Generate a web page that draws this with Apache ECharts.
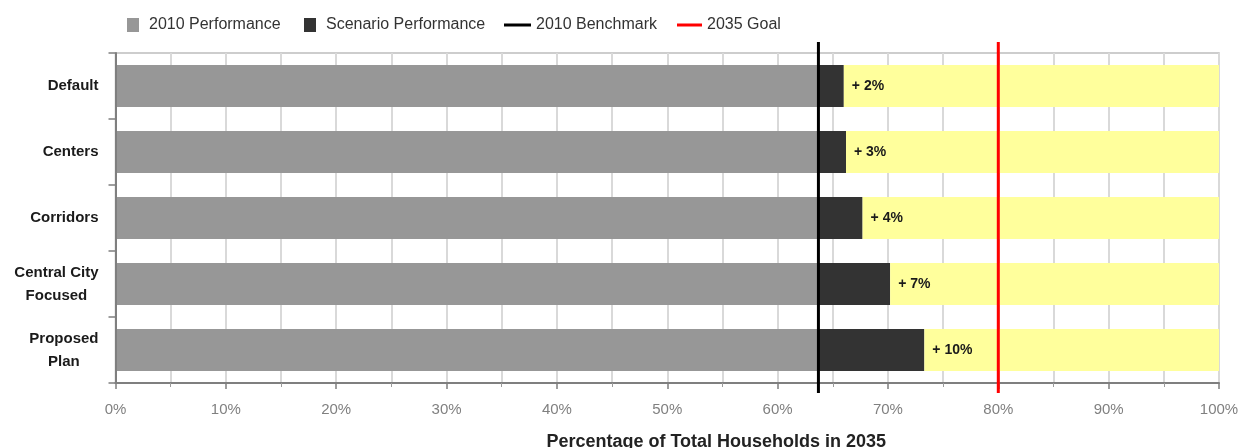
<!DOCTYPE html>
<html>
<head>
<meta charset="utf-8">
<script src="https://cdn.jsdelivr.net/npm/echarts@6/dist/echarts.min.js"></script>
<style>
  html, body { margin: 0; padding: 0; background: #fff; }
  #chart { width: 1240px; height: 448px; }
</style>
</head>
<body>
<div id="chart"></div>
<script>
// Scenarios compared against the 2010 benchmark
const categories = ['Default', 'Centers', 'Corridors', 'Central City\nFocused', 'Proposed\nPlan'];
// Share of households in 2010 (same starting point for every scenario)
const performance2010 = [63.7, 63.7, 63.7, 63.7, 63.7];
// Gain of each scenario over 2010, in percentage points
const scenarioGain = [2.3, 2.5, 4.0, 6.5, 9.6];
// Reference lines
const benchmark2010 = 63.7;
const goal2035 = 80;
// Axis range
const xMin = 0, xMax = 100, xInterval = 10;

const FONT = '"Liberation Sans", Arial, sans-serif';

// Room left up to 100% after the scenario gain
const remaining = performance2010.map((p, i) => +(xMax - p - scenarioGain[i]).toFixed(2));

// Vertical reference line that overshoots the plot area a little
function vLine(color, width, over, under) {
  return function (params, api) {
    const x = api.coord([api.value(0), 0])[0];
    const cs = params.coordSys;
    return {
      type: 'line',
      shape: { x1: x, y1: cs.y - over, x2: x, y2: cs.y + cs.height + under },
      style: { stroke: color, lineWidth: width }
    };
  };
}

const legendCommon = {
  top: 17,
  selectedMode: false,
  padding: 0,
  textStyle: { fontFamily: FONT, fontSize: 16, color: '#333' }
};
const squareIcon = 'path://M0,0M5,0H17V14H5ZM22,14';

const chart = echarts.init(document.getElementById('chart'), null, { renderer: 'canvas' });
chart.setOption({
  animation: false,
  backgroundColor: '#fff',
  legend: [
    Object.assign({ left: 122, itemWidth: 22, itemHeight: 14,
      data: [{ name: '2010 Performance', icon: squareIcon }] }, legendCommon),
    Object.assign({ left: 299, itemWidth: 22, itemHeight: 14,
      data: [{ name: 'Scenario Performance', icon: squareIcon }] }, legendCommon),
    Object.assign({ left: 504, itemWidth: 27, itemHeight: 3,
      data: [{ name: '2010 Benchmark', icon: 'rect', itemStyle: { color: '#000' } }] }, legendCommon),
    Object.assign({ left: 677, itemWidth: 25, itemHeight: 3,
      data: [{ name: '2035 Goal', icon: 'rect', itemStyle: { color: '#ff0000' } }] }, legendCommon)
  ],
  grid: {
    left: 115.5, right: 21, top: 53, bottom: 65,
    outerBoundsMode: 'none',
    containLabel: false,
    show: true, borderColor: '#bdbdbd', borderWidth: 1.5, backgroundColor: 'transparent'
  },
  xAxis: {
    type: 'value',
    min: xMin, max: xMax, interval: xInterval,
    name: 'Percentage of Total Households in 2035',
    nameLocation: 'middle',
    nameGap: 50,
    nameTextStyle: { fontFamily: FONT, fontSize: 18, fontWeight: 'bold', color: '#222', padding: [0, 0, 0, 98] },
    axisLine: { show: true, lineStyle: { color: '#7f7f7f', width: 2 } },
    axisTick: { show: true, length: 6, lineStyle: { color: '#7f7f7f', width: 1.5 } },
    minorTick: { show: true, splitNumber: 2, length: 4, lineStyle: { color: '#9a9a9a', width: 1 } },
    axisLabel: {
      margin: 19, fontFamily: FONT, fontSize: 15, color: '#808080',
      formatter: v => v + '%'
    },
    splitLine: { show: true, lineStyle: { color: '#d9d9d9', width: 2 } },
    minorSplitLine: { show: true, lineStyle: { color: '#d9d9d9', width: 2 } }
  },
  yAxis: {
    type: 'category',
    data: categories,
    inverse: true,
    z: 8,
    axisLine: { show: true, lineStyle: { color: '#7f7f7f', width: 2 } },
    axisTick: { show: true, length: 7, lineStyle: { color: '#7f7f7f', width: 1.5 } },
    axisLabel: {
      margin: 17,
      fontFamily: FONT, fontSize: 15, fontWeight: 'bold', color: '#1a1a1a', lineHeight: 23,
      formatter: v => v.split('\n').map(s => '{c|' + s + '}').join('\n'),
      rich: { c: { align: 'center', fontFamily: FONT, fontSize: 15, fontWeight: 'bold', color: '#1a1a1a', lineHeight: 23 } }
    },
    splitLine: { show: false }
  },
  series: [
    {
      name: '2010 Performance', type: 'bar', stack: 'share', data: performance2010,
      z: 3, barCategoryGap: '36%', itemStyle: { color: '#979797' }
    },
    {
      name: 'Scenario Performance', type: 'bar', stack: 'share', data: scenarioGain,
      z: 3, itemStyle: { color: '#333333' }
    },
    {
      name: 'Remaining', type: 'bar', stack: 'share', data: remaining,
      z: 3, itemStyle: { color: '#ffff9c' },
      label: {
        show: true, position: 'insideLeft', distance: 8,
        fontFamily: FONT, fontSize: 14, fontWeight: 'bold', color: '#1a1a1a',
        formatter: p => '+ ' + Math.round(scenarioGain[p.dataIndex]) + '%'
      }
    },
    {
      name: '2010 Benchmark', type: 'custom', clip: false, z: 10,
      encode: { x: 0, y: 1 },
      itemStyle: { color: '#000' },
      data: [[benchmark2010, 0]],
      renderItem: vLine('#000000', 3, 11, 10)
    },
    {
      name: '2035 Goal', type: 'custom', clip: false, z: 10,
      encode: { x: 0, y: 1 },
      itemStyle: { color: '#ff0000' },
      data: [[goal2035, 0]],
      renderItem: vLine('#ff0000', 3, 11, 10)
    }
  ]
});
</script>
</body>
</html>
